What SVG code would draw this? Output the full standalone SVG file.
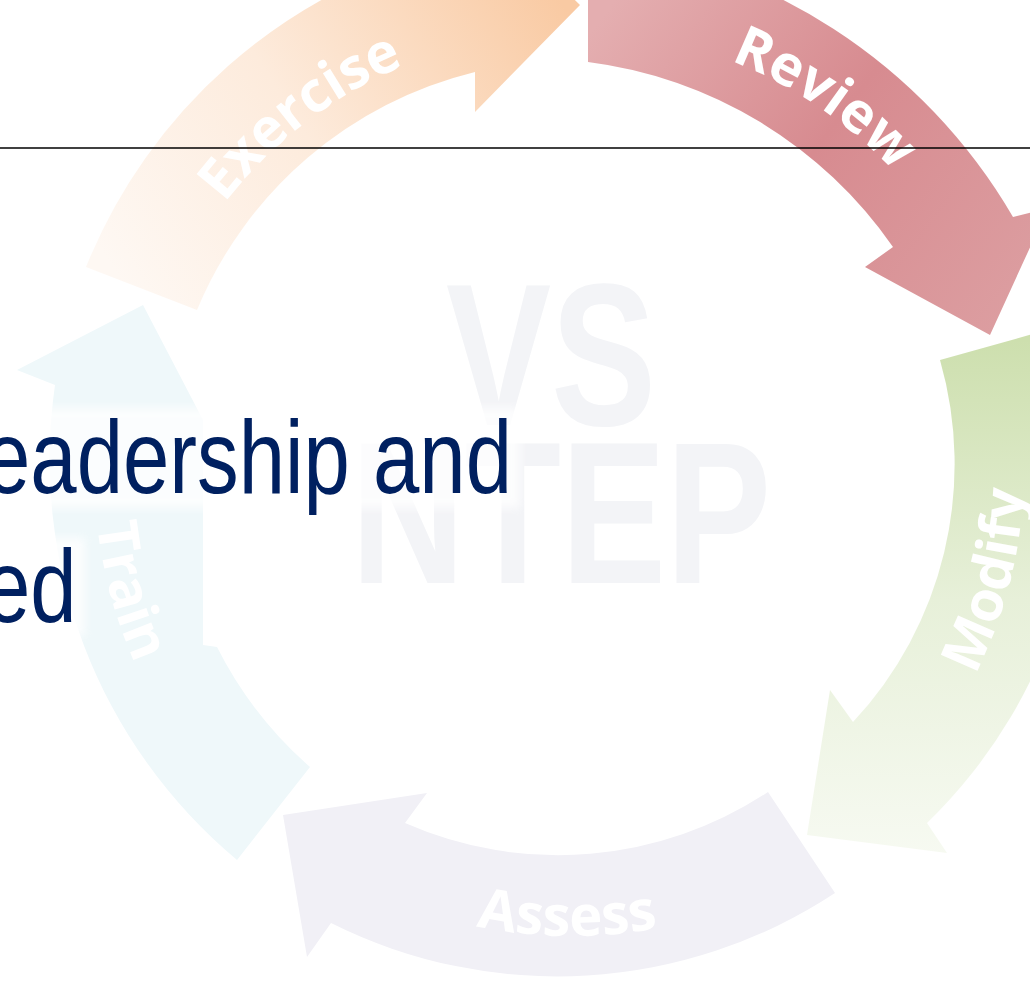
<svg xmlns="http://www.w3.org/2000/svg" width="1030" height="987" viewBox="0 0 1030 987">
<style>
.lbl{font-family:"Open Sans","Liberation Sans",sans-serif;font-weight:700;font-size:56px;fill:#ffffff}
.wm{font-family:"Liberation Sans",Arial,sans-serif;font-weight:700;font-size:202px;fill:#f3f4f7}
.title{font-family:"Liberation Sans",Arial,sans-serif;font-size:104px;fill:#002060}
</style>
<defs>
<linearGradient id="gEx" gradientUnits="userSpaceOnUse" x1="120" y1="280" x2="560" y2="0">
<stop offset="0" stop-color="#fef8f3"/><stop offset="0.45" stop-color="#fdebdc"/><stop offset="1" stop-color="#f9caa3"/>
</linearGradient>
<linearGradient id="gRe" gradientUnits="userSpaceOnUse" x1="600" y1="20" x2="1000" y2="320">
<stop offset="0" stop-color="#e4aeb0"/><stop offset="0.5" stop-color="#d78b90"/><stop offset="1" stop-color="#dc9da0"/>
</linearGradient>
<linearGradient id="gMo" gradientUnits="userSpaceOnUse" x1="0" y1="340" x2="0" y2="860">
<stop offset="0" stop-color="#cddfae"/><stop offset="0.5" stop-color="#e7f0d9"/><stop offset="1" stop-color="#f7faf2"/>
</linearGradient>
<filter id="soft" x="-10%" y="-30%" width="120%" height="160%"><feGaussianBlur stdDeviation="4"/></filter>
<path id="tpEx" d="M183.5,267.8 A438,438 0 0,1 477.2,42.4"/>
<path id="tpRe" d="M642.2,36.7 A439,439 0 0,1 949.1,245.2"/>
<path id="tpMo" d="M919.8,758.7 A452,452 0 0,0 1016.7,389.2"/>
<path id="tpAs" d="M370.6,890.2 A466,466 0 0,0 764.5,894.4"/>
<path id="tpTr" d="M101,388.6 A478,478 0 0,0 206.9,778.5"/>
</defs>
<rect width="1030" height="987" fill="#ffffff"/>
<g id="watermark">
<text class="wm" text-anchor="middle" transform="translate(551,425) scale(0.78,1)">VS</text>
<text class="wm" text-anchor="middle" transform="translate(561,583) scale(0.78,1)">NTEP</text>
</g>
<g id="connectors">
<g id="exercise">
<path d="M86,267 L197,310 A405,405 0 0,1 475,72 L475,112 L580,5 L473,-100 L445,-50 A535,535 0 0,0 86,267 Z" fill="url(#gEx)"/>
<text class="lbl"><textPath href="#tpEx" startOffset="50%" text-anchor="middle">Exercise</textPath></text>
</g>
<g id="review">
<path d="M588,-58 L588,62 A438,438 0 0,1 893,247 L865,267 L990,335 L1048,208 L1013,217 A560,560 0 0,0 588,-58 Z" fill="url(#gRe)"/>
<text class="lbl"><textPath href="#tpRe" startOffset="50%" text-anchor="middle">Review</textPath></text>
</g>
<g id="modify">
<path d="M940,360 A378,378 0 0,1 853,722 L830,690 L807,835 L947,853 L927,823 A510,510 0 0,0 1065,325 Z" fill="url(#gMo)"/>
<text class="lbl"><textPath href="#tpMo" startOffset="50%" text-anchor="middle">Modify</textPath></text>
</g>
<g id="assess">
<path d="M835,893 L768,792 A380,380 0 0,1 405,823 L427,793 L283,815 L307,957 L331,923 A505,505 0 0,0 835,893 Z" fill="#f1f0f6"/>
<text class="lbl"><textPath href="#tpAs" startOffset="50%" text-anchor="middle">Assess</textPath></text>
</g>
<g id="train">
<path d="M310,767 L237,860 A522,522 0 0,1 55,385 L17,370 L143,305 L203,420 L203,645 L217,647 A397,397 0 0,0 310,767 Z" fill="#eff8fa"/>
<text class="lbl"><textPath href="#tpTr" startOffset="50%" text-anchor="middle">Train</textPath></text>
</g>
</g>
<line x1="0" y1="148" x2="1030" y2="148" stroke="#000000" stroke-width="1.3"/>
<g id="title">
<rect x="-10" y="408" width="530" height="100" fill="#ffffff" opacity="0.8" filter="url(#soft)"/>
<rect x="-10" y="538" width="95" height="98" fill="#ffffff" opacity="0.8" filter="url(#soft)"/>
<text class="title" transform="translate(-16,493) scale(0.801,1)">eadership and</text>
<text class="title" transform="translate(-16,622) scale(0.801,1)">ed</text>
</g>
</svg>
